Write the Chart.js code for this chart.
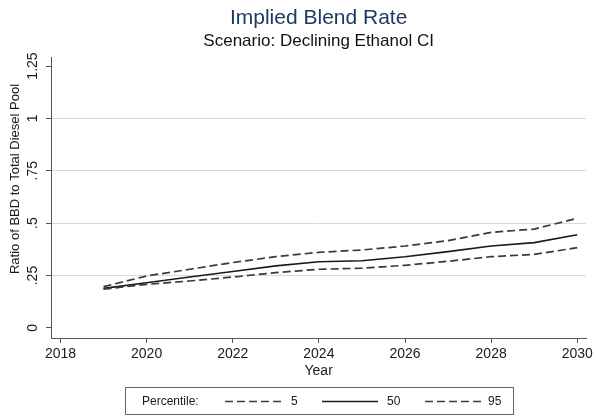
<!DOCTYPE html>
<html>
<head>
<meta charset="utf-8">
<script src="https://cdn.jsdelivr.net/npm/chart.js@4/dist/chart.umd.min.js"></script>
<style>
  html, body { margin: 0; padding: 0; background: #ffffff; }
  #wrap { width: 596px; height: 416px; position: relative; }
</style>
</head>
<body>
<div id="wrap"><canvas id="c"></canvas></div>
<script>
// ---- data ----
const years = [2019, 2020, 2021, 2022, 2023, 2024, 2025, 2026, 2027, 2028, 2029, 2030];
const p5  = [0.185, 0.208, 0.224, 0.243, 0.264, 0.280, 0.285, 0.299, 0.318, 0.340, 0.351, 0.383];
const p50 = [0.189, 0.216, 0.243, 0.269, 0.296, 0.316, 0.321, 0.340, 0.364, 0.391, 0.407, 0.445];
const p95 = [0.197, 0.248, 0.280, 0.312, 0.340, 0.361, 0.372, 0.391, 0.417, 0.456, 0.472, 0.523];
const seriesLabels = ['5', '50', '95'];
const xTickValues = [2018, 2020, 2022, 2024, 2026, 2028, 2030];
const yTickValues = [0, 0.25, 0.5, 0.75, 1, 1.25];
const yTickLabels = ['0', '.25', '.5', '.75', '1', '1.25'];
const titleText = 'Implied Blend Rate';
const subtitleText = 'Scenario: Declining Ethanol CI';
const xTitle = 'Year';
const yTitle = 'Ratio of BBD to Total Diesel Pool';
const legendTitle = 'Percentile:';

const FONT = '"Liberation Sans", Arial, Helvetica, sans-serif';
const toPts = arr => arr.map((v, i) => ({ x: years[i], y: v }));

// rotated y tick labels + y title (Stata style)
const yLabelsPlugin = {
  id: 'yLabels',
  afterDraw(chart) {
    const ctx = chart.ctx;
    const ys = chart.scales.y;
    ctx.save();
    ctx.fillStyle = '#1a1a1a';
    ctx.font = '14px ' + FONT;
    ctx.textAlign = 'center';
    ctx.textBaseline = 'middle';
    yTickValues.forEach((v, i) => {
      const py = ys.getPixelForValue(v);
      ctx.save();
      ctx.translate(33, py);
      ctx.rotate(-Math.PI / 2);
      ctx.fillText(yTickLabels[i], 0, 0);
      ctx.restore();
    });
    ctx.save();
    ctx.font = '13px ' + FONT;
    ctx.translate(15, 179);
    ctx.rotate(-Math.PI / 2);
    ctx.fillText(yTitle, 0, 0);
    ctx.restore();
    ctx.restore();
  }
};

// boxed legend at the bottom
const legendPlugin = {
  id: 'boxLegend',
  afterDraw(chart) {
    const ctx = chart.ctx;
    ctx.save();
    ctx.strokeStyle = '#666';
    ctx.lineWidth = 1;
    ctx.strokeRect(125.5, 387.5, 388, 27);
    ctx.fillStyle = '#1a1a1a';
    ctx.font = '12px ' + FONT;
    ctx.textBaseline = 'middle';
    ctx.textAlign = 'left';
    const cy = 401.5;
    ctx.fillText(legendTitle, 142, cy);
    const slots = [[225, 282, 291], [322, 378, 387], [425, 482, 488]];
    chart.data.datasets.forEach((ds, i) => {
      const [x0, x1, tx] = slots[i];
      ctx.save();
      ctx.strokeStyle = ds.borderColor;
      ctx.lineWidth = ds.borderWidth;
      ctx.setLineDash(ds.borderDash || []);
      ctx.beginPath();
      ctx.moveTo(x0, cy);
      ctx.lineTo(x1, cy);
      ctx.stroke();
      ctx.restore();
      ctx.fillText(ds.label, tx, cy);
    });
    ctx.restore();
  }
};

new Chart(document.getElementById('c'), {
  type: 'line',
  data: {
    datasets: [
      { label: seriesLabels[0], data: toPts(p5),  borderColor: '#3a3a3a', borderWidth: 1.7, borderDash: [8, 4], pointRadius: 0, fill: false, tension: 0 },
      { label: seriesLabels[1], data: toPts(p50), borderColor: '#1a1a1a', borderWidth: 1.6, borderDash: [], pointRadius: 0, fill: false, tension: 0 },
      { label: seriesLabels[2], data: toPts(p95), borderColor: '#3a3a3a', borderWidth: 1.7, borderDash: [8, 4], pointRadius: 0, fill: false, tension: 0 }
    ]
  },
  options: {
    responsive: true,
    maintainAspectRatio: false,
    animation: false,
    devicePixelRatio: 1,
    layout: { padding: { left: 0, right: 8, top: 0, bottom: 36 } },
    plugins: {
      legend: { display: false },
      tooltip: { enabled: false },
      title: {
        display: true, text: titleText, color: '#1c3a63', fullSize: false,
        font: { family: FONT, size: 21, weight: 'normal' },
        padding: { top: 6, bottom: 0 }
      },
      subtitle: {
        display: true, text: subtitleText, color: '#111', fullSize: false,
        font: { family: FONT, size: 17, weight: 'normal' },
        padding: { top: 0, bottom: 5.4 }
      }
    },
    scales: {
      x: {
        type: 'linear',
        min: 2017.78, max: 2030.21,
        afterBuildTicks: s => { s.ticks = xTickValues.map(v => ({ value: v })); },
        afterFit: s => { s.height = 42; },
        ticks: {
          color: '#1a1a1a', font: { family: FONT, size: 14 }, padding: 3,
          maxRotation: 0, autoSkip: false,
          callback: v => String(v)
        },
        grid: { drawOnChartArea: false, drawTicks: true, tickLength: 5, color: '#555', tickColor: '#555' },
        border: { display: true, color: '#555', width: 1 },
        title: { display: true, text: xTitle, color: '#1a1a1a', font: { family: FONT, size: 14 }, padding: { top: 0, bottom: 0 } }
      },
      y: {
        type: 'linear',
        min: -0.048, max: 1.293,
        afterBuildTicks: s => { s.ticks = yTickValues.map(v => ({ value: v })); },
        afterFit: s => { s.width = 51; },
        ticks: { display: false },
        grid: {
          drawTicks: true, tickLength: 5,
          color: c => (c.tick && (c.tick.value === 0 || c.tick.value === 1.25)) ? 'rgba(0,0,0,0)' : '#d9d9d9',
          tickColor: '#555', lineWidth: 1
        },
        border: { display: true, color: '#555', width: 1 }
      }
    }
  },
  plugins: [yLabelsPlugin, legendPlugin]
});
</script>
</body>
</html>
